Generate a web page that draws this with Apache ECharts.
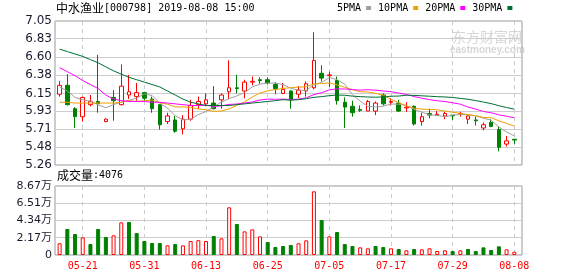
<!DOCTYPE html>
<html><head><meta charset="utf-8">
<script src="https://cdn.jsdelivr.net/npm/echarts@6/dist/echarts.min.js"></script>
<style>html,body{margin:0;padding:0;background:#fff}#c{width:578px;height:276px}</style>
</head><body><div id="c"></div>
<script>
const dates = ['05-16','05-17','05-20','05-21','05-22','05-23','05-24','05-27','05-28','05-29','05-30','05-31',
 '06-03','06-04','06-05','06-06','06-10','06-11','06-12','06-13','06-14','06-17','06-18','06-19','06-20','06-21','06-24','06-25','06-26','06-27','06-28',
 '07-01','07-02','07-03','07-04','07-05','07-08','07-09','07-10','07-11','07-12','07-15','07-16','07-17','07-18','07-19','07-22','07-23','07-24','07-25','07-26','07-29','07-30','07-31',
 '08-01','08-02','08-05','08-06','08-07','08-08'];
const opens  = [6.14,6.25,5.96,5.86,6.01,6.05,5.80,6.10,6.01,6.13,6.11,6.16,6.08,6.01,5.80,5.82,5.71,5.83,6.01,6.02,6.03,6.07,6.17,6.22,6.18,6.29,6.32,6.32,6.26,6.15,6.18,6.14,6.18,6.22,6.40,6.37,6.31,6.04,5.99,5.95,5.93,5.93,6.13,6.04,6.03,5.97,5.99,5.80,5.90,5.88,5.87,5.88,5.89,5.83,5.82,5.72,5.79,5.70,5.52,5.58];
const closes = [6.25,6.01,5.86,6.10,6.05,6.02,5.83,6.06,6.24,6.17,6.16,6.09,5.96,5.76,5.87,5.68,5.83,6.00,6.05,6.07,5.96,6.13,6.22,6.21,6.29,6.30,6.31,6.28,6.21,6.20,6.07,6.19,6.27,6.56,6.34,6.38,6.06,5.98,5.91,5.94,6.05,6.03,6.02,6.05,5.93,5.98,5.77,5.86,5.88,5.89,5.90,5.87,5.90,5.87,5.81,5.76,5.74,5.48,5.56,5.57];
const lows   = [6.11,6.00,5.72,5.80,5.99,5.91,5.79,5.81,6.00,6.08,6.06,6.06,5.91,5.70,5.77,5.66,5.64,5.81,5.96,5.99,5.95,5.96,6.08,6.15,6.09,6.25,6.27,6.26,6.14,6.14,5.96,6.09,6.11,6.20,6.30,6.23,6.01,5.72,5.86,5.92,5.93,5.88,6.00,6.00,5.92,5.92,5.75,5.75,5.84,5.87,5.83,5.82,5.86,5.77,5.75,5.69,5.73,5.43,5.49,5.52];
const highs  = [6.30,6.39,5.98,6.11,6.13,6.63,5.84,6.19,6.51,6.38,6.28,6.17,6.11,6.02,5.91,5.87,5.88,6.07,6.11,6.15,6.24,6.15,6.56,6.38,6.32,6.36,6.35,6.35,6.29,6.28,6.19,6.24,6.30,6.91,6.50,6.42,6.36,6.10,6.06,6.00,6.07,6.05,6.15,6.09,6.07,6.04,6.00,5.91,5.96,5.93,5.92,5.88,5.92,5.88,5.86,5.79,5.83,5.74,5.62,5.58];
const volumes = [14700,32700,26400,22200,13800,32700,22600,24700,41000,41500,27600,17600,15100,15100,12100,13800,12100,17600,18600,17600,23900,20900,59900,39000,29700,32200,23400,16300,10000,11300,12600,14700,18400,80000,44000,23400,28900,13800,11300,9600,8400,11300,10000,8400,7500,5900,7500,7100,8400,5000,5900,5000,5900,7500,5000,9600,6300,10900,7100,4076];
const ma5  = [6.23,6.18,6.10,6.07,6.054,6.008,5.972,6.012,6.04,6.064,6.092,6.144,6.124,6.028,5.968,5.872,5.82,5.828,5.886,5.926,5.982,6.042,6.086,6.118,6.162,6.23,6.266,6.278,6.278,6.26,6.214,6.19,6.188,6.258,6.286,6.348,6.322,6.264,6.134,6.054,5.988,5.982,5.99,6.018,6.016,6.002,5.95,5.918,5.884,5.876,5.86,5.88,5.888,5.886,5.87,5.842,5.816,5.732,5.67,5.622];
const ma10 = [6.04,6.04,6.03,6.03,6.03,6.03,6.03,6.03,6.04,6.059,6.05,6.058,6.068,6.034,6.016,5.982,5.982,5.976,5.957,5.947,5.927,5.931,5.957,6.002,6.044,6.106,6.154,6.182,6.198,6.211,6.222,6.228,6.233,6.268,6.273,6.281,6.256,6.226,6.196,6.17,6.168,6.152,6.127,6.076,6.035,5.995,5.966,5.954,5.951,5.946,5.931,5.915,5.903,5.885,5.873,5.851,5.848,5.81,5.778,5.744];
const ma20 = [6.47,6.42,6.37,6.31,6.26,6.21,6.13,6.08,6.06,6.05,6.05,6.05,6.04,6.04,6.03,6.02,6.01,6.00,6.00,6.003,5.989,5.995,6.013,6.018,6.03,6.044,6.068,6.079,6.077,6.079,6.074,6.079,6.095,6.135,6.158,6.194,6.206,6.205,6.198,6.191,6.196,6.19,6.18,6.172,6.154,6.138,6.111,6.09,6.073,6.058,6.049,6.033,6.016,5.981,5.955,5.925,5.909,5.884,5.866,5.847];
const ma30 = [6.70,6.67,6.64,6.61,6.57,6.53,6.48,6.43,6.39,6.35,6.32,6.29,6.26,6.23,6.18,6.13,6.08,6.04,6.02,6.00,6.00,6.00,6.00,6.01,6.02,6.03,6.04,6.05,6.06,6.072,6.066,6.072,6.085,6.101,6.11,6.122,6.13,6.127,6.116,6.11,6.105,6.103,6.105,6.115,6.117,6.127,6.125,6.12,6.115,6.109,6.106,6.099,6.088,6.077,6.061,6.042,6.023,5.997,5.975,5.954];
const xTickIdx = [3,11,19,27,35,43,51,59];
const priceTickLabels = ['5.26','5.48','5.71','5.93','6.15','6.38','6.60','6.83','7.05'];
const volTickValues = [0,21700,43400,65100,86700];
const volTickLabels = ['0','2.17万','4.34万','6.51万','8.67万'];
const maNames = ['5PMA','10PMA','20PMA','30PMA'];
const maColors = ['#a0a0a0','#f0a000','#ff00ff','#006f35'];

const RED = '#ff0000', GREEN = '#008000';
const priceVals = priceTickLabels.map(Number);
const xMin = -0.6, xMax = 60;

const chart = echarts.init(document.getElementById('c'), null, {renderer: 'canvas'});
const candleData = dates.map((d, i) => [i, opens[i], closes[i], lows[i], highs[i]]);
const volData = volumes.map((v, i) => {
  const up = i === 0 || closes[i] >= closes[i - 1];
  return {value: [i, v], itemStyle: up ? {color: '#fff', borderColor: RED, borderWidth: 1} : {color: GREEN, borderColor: GREEN, borderWidth: 1}};
});
const maArr = [ma5, ma10, ma20, ma30];

const xBase = {
  type: 'value', min: xMin, max: xMax,
  axisLine: {show: false},
  axisTick: {show: false, customValues: xTickIdx},
  splitLine: {show: true, lineStyle: {color: '#cccccc', type: [4, 4], width: 1}}
};
const richTitle = {
  c: {fontSize: 12, fontFamily: 'Noto Sans CJK SC', color: '#000', fontWeight: 'normal'},
  a: {fontSize: 10, fontFamily: 'DejaVu Sans Mono', color: '#000', fontWeight: 'normal'}
};

chart.setOption({
  animation: false,
  backgroundColor: '#fff',
  title: [
    {text: '{c|中水渔业}{a|[000798] 2019-08-08 15:00}', left: 56, top: 2, padding: 0,
     textStyle: {fontWeight: 'normal', rich: richTitle}},
    {text: '{c|成交量}{a|:4076}', left: 57, top: 169, padding: 0,
     textStyle: {fontWeight: 'normal', rich: richTitle}}
  ],
  legend: {
    data: maNames, left: 337, top: 3, padding: 0, itemGap: 7, itemWidth: 5, itemHeight: 4,
    icon: 'rect', align: 'right', selectedMode: false,
    textStyle: {fontSize: 10, fontFamily: 'DejaVu Sans Mono', color: '#000', padding: 0}
  },
  graphic: [
    {type: 'text', left: 452, top: 30, z: -1, silent: true,
     style: {text: '东方财富网', fontSize: 14, fontFamily: 'Noto Sans CJK SC', fill: '#d6d6d6'}},
    {type: 'text', left: 450, top: 45, z: -1, silent: true,
     style: {text: 'eastmoney.com', fontSize: 10, fontWeight: 'bold', fontFamily: 'Liberation Sans', fill: '#d6d6d6'}}
  ],
  grid: [
    {left: 55, top: 21, width: 467, height: 144, show: true, borderColor: '#999', borderWidth: 1, backgroundColor: 'transparent'},
    {left: 55, top: 186, width: 467, height: 69, show: true, borderColor: '#999', borderWidth: 1, backgroundColor: 'transparent'}
  ],
  xAxis: [
    Object.assign({}, xBase, {gridIndex: 0, axisLabel: {show: false}}),
    Object.assign({}, xBase, {gridIndex: 1,
      axisLabel: {show: true, customValues: xTickIdx, formatter: v => dates[Math.round(v)] || '', color: RED, fontSize: 10, fontFamily: 'DejaVu Sans Mono', margin: 6}})
  ],
  yAxis: [
    {type: 'value', gridIndex: 0, min: 5.26, max: 7.05, scale: true,
     axisLine: {show: false}, axisTick: {show: false, customValues: priceVals},
     axisLabel: {customValues: priceVals, formatter: v => Number(v).toFixed(2), color: '#1a1a2e', fontSize: 12, fontFamily: 'DejaVu Sans', margin: 3},
     splitLine: {show: true, lineStyle: {color: '#cccccc', width: 1}}},
    {type: 'value', gridIndex: 1, min: 0, max: 86700,
     axisLine: {show: false}, axisTick: {show: false, customValues: volTickValues},
     axisLabel: {customValues: volTickValues, formatter: v => volTickLabels[volTickValues.indexOf(v)] || '', color: '#1a1a2e', fontSize: 11, fontFamily: 'DejaVu Sans, Noto Sans CJK SC', margin: 3},
     splitLine: {show: true, lineStyle: {color: '#cccccc', width: 1}}}
  ],
  series: [
    {type: 'candlestick', name: 'K', xAxisIndex: 0, yAxisIndex: 0, barWidth: 4,
     encode: {x: 0, y: [1, 2, 3, 4]}, data: candleData,
     itemStyle: {color: '#fff', color0: GREEN, borderColor: RED, borderColor0: GREEN, borderWidth: 1}, z: 2},
    {type: 'bar', name: 'VOL', xAxisIndex: 1, yAxisIndex: 1, barWidth: 4, data: volData, z: 2}
  ].concat(maArr.map((arr, k) => ({
    type: 'line', name: maNames[k], xAxisIndex: 0, yAxisIndex: 0, showSymbol: false, symbol: 'none',
    color: maColors[k], lineStyle: {width: 1, color: maColors[k]}, z: 3,
    data: arr.map((v, i) => [i, v])
  })))
});
</script></body></html>
